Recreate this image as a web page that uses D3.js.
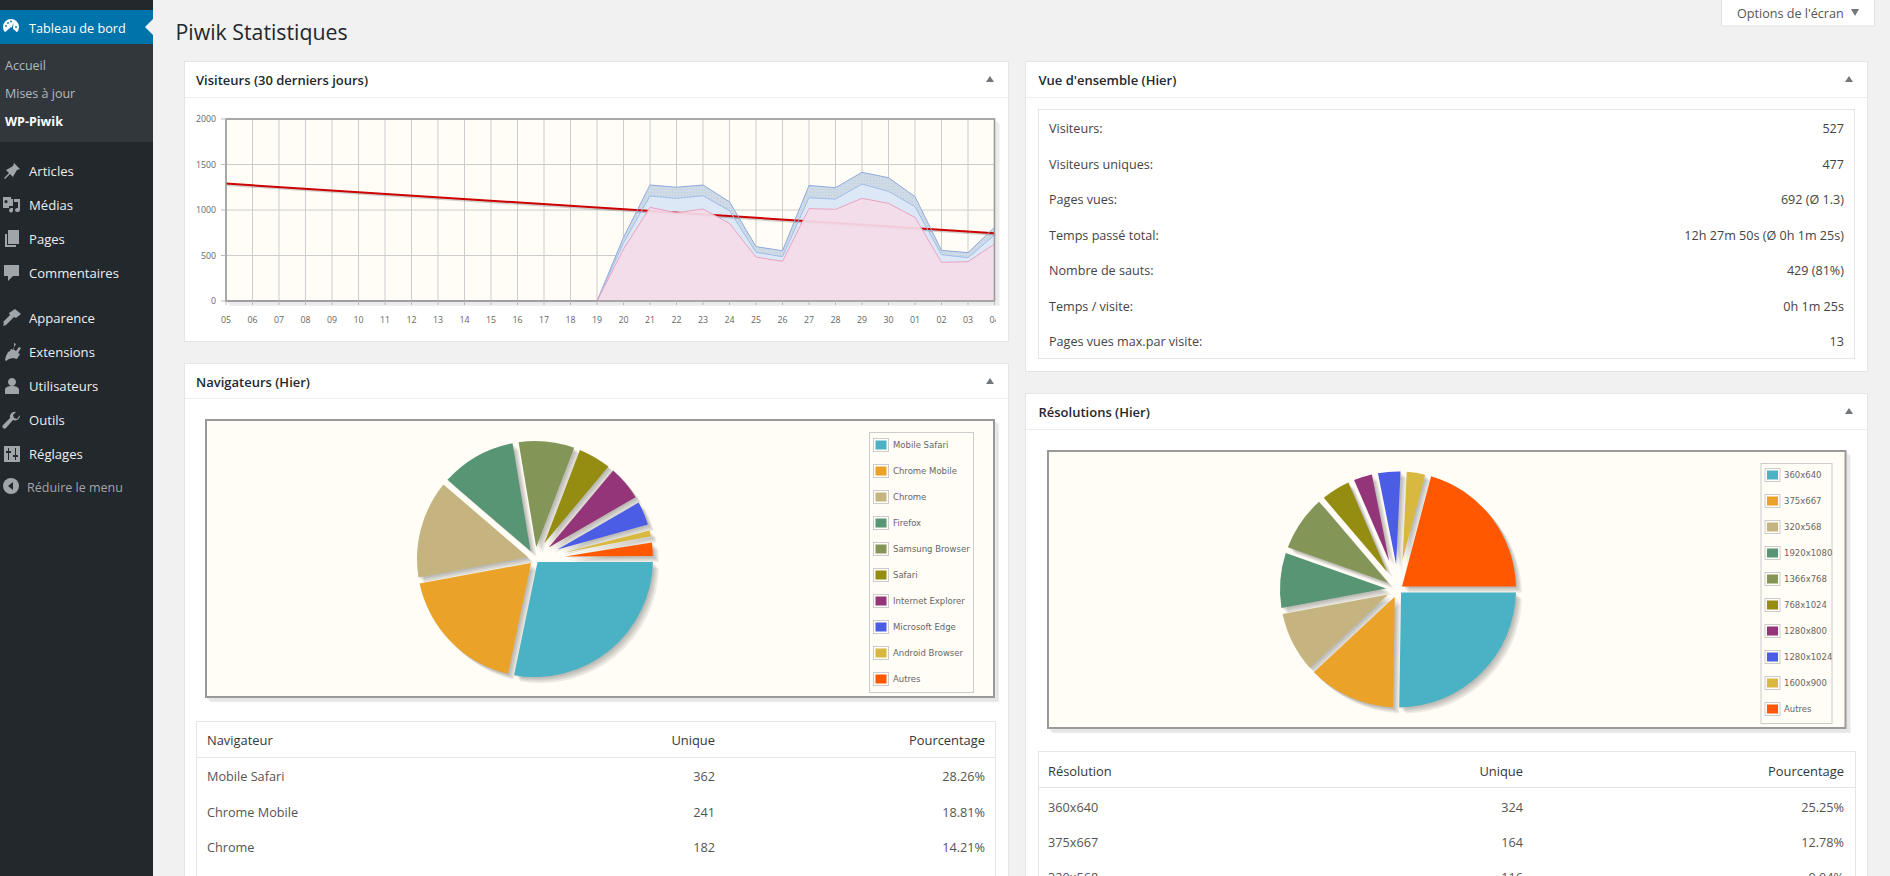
<!DOCTYPE html>
<html><head><meta charset="utf-8"><title>Piwik Statistiques</title>
<script src="https://cdn.jsdelivr.net/npm/d3@7/dist/d3.min.js"></script>
<style>html,body{margin:0;padding:0;background:#f1f1f1;overflow:hidden}svg{display:block}text{font-family:"Open Sans",sans-serif}</style>
</head><body><svg id="page" width="1890" height="876"></svg>
<script>
// ---------- data ----------
const dayLabels = ["05","06","07","08","09","10","11","12","13","14","15","16","17","18","19","20","21","22","23","24","25","26","27","28","29","30","01","02","03","04"];
const visitsTop = [0,0,0,0,0,0,0,0,0,0,0,0,0,0,0,700,1275,1250,1275,1090,597,553,1270,1245,1414,1355,1146,557,531,810];
const visitsMid = [0,0,0,0,0,0,0,0,0,0,0,0,0,0,0,640,1154,1128,1157,993,535,487,1135,1120,1285,1205,1037,509,476,725];
const visitsLow = [0,0,0,0,0,0,0,0,0,0,0,0,0,0,0,570,1029,970,1011,853,483,436,1015,1007,1128,1073,919,425,432,626];
const trendDays = ["05","04"];
const trendValues = [1290,745];
const yTicks = [0,500,1000,1500,2000];
const sliceColors = ["#4bb2c5","#EAA228","#c5b47f","#579575","#839557","#958c12","#953579","#4b5de4","#d8b83f","#ff5800"];
const browserNames = ["Mobile Safari","Chrome Mobile","Chrome","Firefox","Samsung Browser","Safari","Internet Explorer","Microsoft Edge","Android Browser","Autres"];
const browserValues = [362,241,182,142,108,68,71,52,21,34];
const resolutionNames = ["360x640","375x667","320x568","1920x1080","1366x768","768x1024","1280x800","1280x1024","1600x900","Autres"];
const resolutionValues = [324,164,116,107,107,61,43,50,43,268];
const browserRows = [["Mobile Safari","362","28.26%"],["Chrome Mobile","241","18.81%"],["Chrome","182","14.21%"]];
const resolutionRows = [["360x640","324","25.25%"],["375x667","164","12.78%"],["320x568","116","9.04%"]];
const overviewRows = [["Visiteurs:","527"],["Visiteurs uniques:","477"],["Pages vues:","692 (Ø 1.3)"],["Temps passé total:","12h 27m 50s (Ø 0h 1m 25s)"],["Nombre de sauts:","429 (81%)"],["Temps / visite:","0h 1m 25s"],["Pages vues max.par visite:","13"]];
const menuTop = [["Articles","pin"],["Médias","media"],["Pages","pages"],["Commentaires","comment"],["Apparence","brush"],["Extensions","plug"],["Utilisateurs","user"],["Outils","tool"],["Réglages","sliders"]];
const menuTopY = [171,205,239,273,318,352,386,420,454];
const subMenu = ["Accueil","Mises à jour","WP-Piwik"];
const subMenuY = [65.5,93.5,121.5];

// ---------- page ----------
const svg = d3.select("#page");
const defs = svg.append("defs");
const pat = defs.append("pattern").attr("id","dots").attr("width",3).attr("height",3).attr("patternUnits","userSpaceOnUse");
pat.append("rect").attr("width",3).attr("height",3).attr("fill","#cedbe7");
pat.append("rect").attr("width",1).attr("height",1).attr("fill","#c0cfda");
function rect(g,x,y,w,h,fill,stroke){return g.append("rect").attr("x",x).attr("y",y).attr("width",w).attr("height",h).attr("fill",fill).attr("stroke",stroke||"none");}
function text(g,x,y,s,size,color,o){o=o||{};return g.append("text").attr("x",x).attr("y",y).attr("dy","0.35em").attr("font-size",size).attr("fill",color).attr("text-anchor",o.anchor||"start").attr("font-weight",o.weight||400).style("font-family",o.family||null).text(s);}

// sidebar
const side = svg.append("g");
rect(side,0,0,153,876,"#23282d");
rect(side,0,10,153,34,"#0073aa");
rect(side,0,44,153,98,"#32373c");
side.append("path").attr("d",d3.line()([[153,19],[145,27],[153,35]])).attr("fill","#f1f1f1");
text(side,29,28.5,"Tableau de bord",12.7,"#fff");
subMenu.forEach((s,i)=>text(side,5,subMenuY[i],s,12.5,i==2?"#fff":"#b4b9be",{weight:i==2?700:400}));
menuTop.forEach((m,i)=>{text(side,29,menuTopY[i],m[0],13.1,"#eee");});
text(side,27,487.5,"Réduire le menu",12.5,"#a0a5aa");
const icons = {
 pin:"M12 2l6 6-3 1-3 5-1 2-3-3-5 5-1-1 5-5-3-3 2-1 5-3z",
 media:"M1 2h8v2h2v7H7v2H1zM4 5a1.6 1.6 0 1 0 .01 0zM12 4h6v11a2.5 2 0 1 1-2-2V7h-4zM7 13h4v2a2 2 0 1 1-2-1.6z",
 pages:"M6 1h11v14H6zM3 5h2v11h9v2H3z",
 comment:"M2 2h15v11h-6l-5 5v-5H2z",
 brush:"M13 1l6 5-5 4-2-1-8 8-3-3 7-7-1-2zM2 15l2 2-3 1z",
 plug:"M12 1l2 1-3 5 3 2 3-4 2 1-3 5 2 1-3 5-4-1-4 1-3 2-1-1 1-4 2-4 2-1 1-2 3 1z",
 user:"M10 2a4 4 0 1 1-.01 0zM3 14c0-3 3-4 7-4s7 1 7 4v4H3z",
 tool:"M18 5a5 5 0 0 1-7 5L4 18a2 2 0 0 1-3-3l7-7a5 5 0 0 1 6-6l-3 3 1 3 3 1z",
 sliders:"M2 2h16v16H2zM6 4v3H4v2h2v7h1V9h2V7H7V4zM13 4v7h-2v2h2v3h1v-3h2v-2h-2V4z"
};
menuTop.forEach((m,i)=>{side.append("path").attr("d",icons[m[1]]).attr("transform",`translate(2,${menuTopY[i]-10})`).attr("fill","#a0a5aa").attr("fill-rule","evenodd");});
// dashboard gauge and collapse icons
const gauge = side.append("g").attr("transform","translate(11,27)");
gauge.append("path").attr("d",d3.arc().innerRadius(0).outerRadius(8)({startAngle:-2.3,endAngle:2.3})).attr("fill","#fff");
gauge.append("path").attr("d","M-1.5 6L2.5-4L1.5 6z").attr("fill","#0073aa");
[[-5,-1],[-3,-4],[0,-5.5],[5,0]].forEach(p=>gauge.append("circle").attr("cx",p[0]).attr("cy",p[1]).attr("r",.9).attr("fill","#0073aa"));
const coll = side.append("g").attr("transform","translate(11,486)");
coll.append("circle").attr("r",8).attr("fill","#a0a5aa");
coll.append("path").attr("d","M2-4L-3 0L2 4z").attr("fill","#23282d");

// main
text(svg,175.5,33,"Piwik Statistiques",21.3,"#23282d");
rect(svg,1721.5,-2,153,28,"#fff","#e1e1e1");
text(svg,1737,13.5,"Options de l'écran",12.6,"#555");
svg.append("path").attr("d","M1851 9h8l-4 7z").attr("fill","#72777c");

function panel(x,y,w,h,title,lineY,tx){
  const g = svg.append("g");
  rect(g,x+.5,y+.5,w,h,"#fff","#e5e5e5");
  g.append("line").attr("x1",x+1).attr("x2",x+w).attr("y1",lineY+.5).attr("y2",lineY+.5).attr("stroke","#eee");
  text(g,x+tx,y+19,title,13,"#23282d",{weight:600});
  g.append("path").attr("d",`M${x+w-22} ${y+21}l4 -6 4 6z`).attr("fill","#72777c");
  return g;
}
panel(184,61,824,280,"Visiteurs (30 derniers jours)",97,12);
panel(184,363,824,560,"Navigateurs (Hier)",398,12);
panel(1025,61,842,310,"Vue d'ensemble (Hier)",97,13.5);
panel(1025,393,842,560,"Résolutions (Hier)",429,13.5);

// overview table
const ov = svg.append("g");
rect(ov,1038.5,109.5,816,249,"#fff","#e5e5e5");
const ovY = d3.scalePoint().domain(overviewRows.map(d=>d[0])).range([129,342]);
overviewRows.forEach(r=>{text(ov,1049,ovY(r[0]),r[0],12.6,"#444");text(ov,1844,ovY(r[0]),r[1],12.6,"#444",{anchor:"end"});});

// line chart
const plot = {l:226,r:994.5,t:119,b:301};
const x = d3.scalePoint().domain(dayLabels).range([plot.l,plot.r]);
const y = d3.scaleLinear().domain([0,2000]).range([plot.b,plot.t]);
const chart = svg.append("g");
rect(chart,plot.l,plot.t,plot.r-plot.l,plot.b-plot.t,"#fffdf6");
chart.append("g").selectAll("line").data(dayLabels).join("line").attr("x1",d=>x(d)).attr("x2",d=>x(d)).attr("y1",plot.t).attr("y2",plot.b).attr("stroke","#cccccc");
chart.append("g").selectAll("line").data(yTicks).join("line").attr("x1",plot.l).attr("x2",plot.r).attr("y1",d=>y(d)).attr("y2",d=>y(d)).attr("stroke","#cccccc");
const area = vals => d3.area().x((d,i)=>x(dayLabels[i])).y0(plot.b).y1(d=>y(d))(vals);
const line = vals => d3.line().x((d,i)=>x(dayLabels[i])).y(d=>y(d))(vals);
chart.append("path").attr("d",area(visitsTop)).attr("fill","url(#dots)");
chart.append("path").attr("d",area(visitsMid)).attr("fill","#dce8f6");
const trendPts = trendDays.map((d,i)=>[x(d),y(trendValues[i])]);
chart.append("path").attr("d",d3.line()(trendPts)).attr("transform","translate(1,1.5)").attr("stroke","#000").attr("stroke-opacity",.18).attr("stroke-width",2).attr("fill","none");
chart.append("path").attr("d",d3.line()(trendPts)).attr("stroke","#cc0000").attr("stroke-width",2).attr("fill","none");
chart.append("path").attr("d",area(visitsLow)).attr("fill","#f5dcea").attr("fill-opacity",.93);
[[visitsTop,"#8fa9dd"],[visitsMid,"#a0bce8"],[visitsLow,"#e9a3c0"]].forEach(s=>chart.append("path").attr("d",line(s[0])).attr("fill","none").attr("stroke",s[1]).attr("stroke-width",1));
function frame(g,l,t,w,h,sw){
  [1,2,3].forEach(i=>g.append("path").attr("d",`M${l+i*1.4} ${t+h+i*1.4}H${l+w+i*1.4}V${t+i*1.4}`).attr("fill","none").attr("stroke","#000").attr("stroke-opacity",.07).attr("stroke-width",sw));
  g.append("rect").attr("x",l).attr("y",t).attr("width",w).attr("height",h).attr("fill","none").attr("stroke","#999999").attr("stroke-width",sw);
}
frame(chart,plot.l,plot.t,plot.r-plot.l,plot.b-plot.t,1.6);
chart.append("g").selectAll("line").data(dayLabels).join("line").attr("x1",d=>x(d)).attr("x2",d=>x(d)).attr("y1",plot.b).attr("y2",plot.b+4).attr("stroke","#bbb");
chart.append("g").selectAll("line").data(yTicks).join("line").attr("x1",plot.l-5).attr("x2",plot.l).attr("y1",d=>y(d)).attr("y2",d=>y(d)).attr("stroke","#bbb");
yTicks.forEach(t=>text(chart,plot.l-10,y(t),t,8.8,"#666",{anchor:"end"}));
const clip = defs.append("clipPath").attr("id","tickclip"); clip.append("rect").attr("x",200).attr("y",300).attr("width",796).attr("height",40);
const tk = chart.append("g").attr("clip-path","url(#tickclip)");
dayLabels.forEach(d=>text(tk,x(d),320,d,8.8,"#666",{anchor:"middle"}));

// pies
function pieChart(names,values,box,c,legend){
  const g = svg.append("g");
  rect(g,box.x,box.y,box.w,box.h,"#fffdf6");
  frame(g,box.x,box.y,box.w,box.h,2);
  const R = 118, m = 3.1, maxTip = 30;
  const arcs = d3.pie().sort(null).startAngle(Math.PI/2).endAngle(Math.PI*2.5)(values);
  const slicePath = a => {
    // d3.pie angles are measured clockwise from north; convert them to canvas angles
    const a0 = a.startAngle-Math.PI/2, a1 = a.endAngle-Math.PI/2, half=(a1-a0)/2, mid=(a0+a1)/2;
    const d = Math.min(m/Math.sin(half),maxTip), dA = Math.min(Math.asin(m/R),half*.55);
    const p = d3.path();
    p.moveTo(c.x+d*Math.cos(mid),c.y+d*Math.sin(mid));
    p.arc(c.x,c.y,R,a0+dA,a1-dA,false);
    p.closePath();
    return p.toString();
  };
  [4,3,2,1].forEach(i=>g.append("g").attr("transform",`translate(${i*1.5},${i*1.5})`).selectAll("path").data(arcs).join("path").attr("d",slicePath).attr("fill","#000").attr("fill-opacity",.07));
  g.append("g").selectAll("path").data(arcs).join("path").attr("d",slicePath).attr("fill",(d,i)=>sliceColors[i]);
  const ly = d3.scalePoint().domain(names).range([legend.first,legend.first+26*9]);
  rect(g,legend.x+.5,legend.y+.5,legend.w,legend.h,"none","#ccc");
  names.forEach((n,i)=>{
    rect(g,legend.x+4.5,ly(n)-6.5,15,13,"none","#cccccc");
    rect(g,legend.x+6.5,ly(n)-4.5,11,9,sliceColors[i]);
    text(g,legend.x+legend.tx,ly(n)+.5,n,8.5,"#666",{family:"'DejaVu Sans'"});
  });
}
pieChart(browserNames,browserValues,{x:206,y:420,w:788,h:277},{x:535,y:559},{x:869,y:432,w:104,h:260,first:445,tx:24});
pieChart(resolutionNames,resolutionValues,{x:1048,y:451,w:797.5,h:277},{x:1398,y:589.5},{x:1760.5,y:463,w:71,h:260,first:475,tx:23.5});

// data tables
function dataTable(box,head,rows,cols,headY,lineY,rowY){
  const g = svg.append("g");
  rect(g,box.x+.5,box.y+.5,box.w,box.h,"#fff","#e5e5e5");
  g.append("line").attr("x1",box.x).attr("x2",box.x+box.w).attr("y1",lineY+.5).attr("y2",lineY+.5).attr("stroke","#e5e5e5");
  head.forEach((h,i)=>text(g,cols[i],headY,h,12.9,"#32373c",{anchor:i?"end":"start"}));
  rows.forEach((r,j)=>r.forEach((v,i)=>text(g,cols[i],rowY[j],v,12.7,"#555",{anchor:i?"end":"start"})));
}
dataTable({x:196,y:721,w:799,h:200},["Navigateur","Unique","Pourcentage"],browserRows,[207,715,985],740.7,757,[776.7,812.5,847.7]);
dataTable({x:1038,y:751,w:817,h:200},["Résolution","Unique","Pourcentage"],resolutionRows,[1048,1523,1844],771.7,787,[807.3,842.7,878]);
</script></body></html>
